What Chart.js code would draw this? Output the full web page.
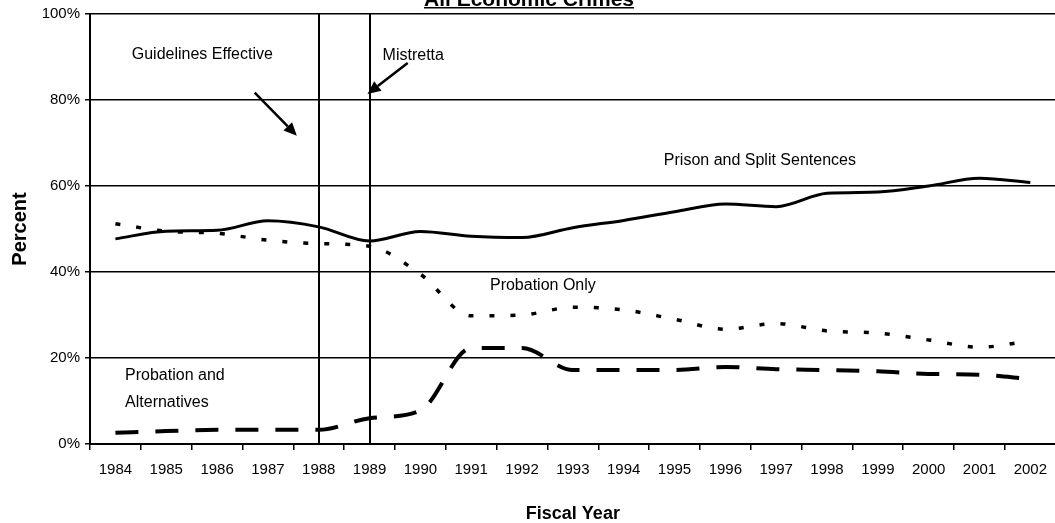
<!DOCTYPE html>
<html>
<head>
<meta charset="utf-8">
<script src="https://cdn.jsdelivr.net/npm/chart.js@4.4.0/dist/chart.umd.min.js"></script>
<style>
  html, body { margin: 0; padding: 0; background: #fff; overflow: hidden; width: 1055px; height: 523px; }
  #wrap { position: relative; width: 1058px; height: 523px; }
</style>
</head>
<body>
<div id="wrap"><canvas id="c"></canvas></div>
<script>
// ---- data ----
const years = ['1984','1985','1986','1987','1988','1989','1990','1991','1992','1993',
               '1994','1995','1996','1997','1998','1999','2000','2001','2002'];
const prisonSplit   = [47.7, 49.5, 49.7, 51.9, 50.5, 47.2, 49.4, 48.3, 48.0, 50.3,
                       52.0, 54.0, 55.8, 55.2, 58.3, 58.6, 60.0, 61.8, 60.8];
const probationOnly = [51.2, 49.5, 49.0, 47.4, 46.6, 46.0, 39.5, 29.8, 30.0, 31.8,
                       31.2, 29.0, 26.7, 28.0, 26.3, 25.8, 24.2, 22.5, 24.0];
const probationAlt  = [2.6, 3.0, 3.3, 3.3, 3.3, 6.0, 7.8, 22.3, 22.3, 17.2,
                       17.2, 17.2, 17.9, 17.4, 17.2, 16.9, 16.3, 16.1, 15.1];
const yTicks = [0, 20, 40, 60, 80, 100];
const eventYears = ['1988', '1989'];
const chartTitle = 'All Economic Crimes';
const xTitle = 'Fiscal Year';
const yTitle = 'Percent';

// annotation texts (positions given in data units: category index, percent)
const notes = [
  { text: 'Guidelines Effective', x: 1.71, y: 90.5, align: 'center' },
  { text: 'Mistretta', x: 5.86, y: 90.3, align: 'center' },
  { text: 'Prison and Split Sentences', x: 12.68, y: 65.9, align: 'center' },
  { text: 'Probation Only', x: 8.41, y: 36.9, align: 'center' },
  { text: 'Probation and', x: 0.19, y: 16.0, align: 'left' },
  { text: 'Alternatives', x: 0.19, y: 9.7, align: 'left' }
];
const arrows = [
  { from: [2.74, 81.7], to: [3.57, 71.7] },
  { from: [5.75, 88.6], to: [4.96, 81.4] }
];

const FONT = '"Liberation Sans", Arial, Helvetica, sans-serif';
Chart.defaults.font.family = FONT;
Chart.defaults.color = '#000';

const overlay = {
  id: 'overlay',
  beforeDatasetsDraw(chart) {
    const { ctx, chartArea: a, scales: { x } } = chart;
    ctx.save();
    ctx.strokeStyle = '#000';
    ctx.lineWidth = 2;
    eventYears.forEach(yr => {
      const px = Math.round(x.getPixelForValue(years.indexOf(yr)));
      ctx.beginPath();
      ctx.moveTo(px, a.top);
      ctx.lineTo(px, a.bottom);
      ctx.stroke();
    });
    ctx.restore();
  },
  afterDraw(chart) {
    const { ctx, scales: { x, y } } = chart;
    ctx.save();
    ctx.fillStyle = '#000';
    ctx.strokeStyle = '#000';
    // notes
    ctx.font = '16px ' + FONT;
    ctx.textBaseline = 'middle';
    notes.forEach(n => {
      ctx.textAlign = n.align;
      ctx.fillText(n.text, x.getPixelForValue(n.x), y.getPixelForValue(n.y));
    });
    // arrows
    arrows.forEach(ar => {
      const x1 = x.getPixelForValue(ar.from[0]), y1 = y.getPixelForValue(ar.from[1]);
      const x2 = x.getPixelForValue(ar.to[0]),   y2 = y.getPixelForValue(ar.to[1]);
      const ang = Math.atan2(y2 - y1, x2 - x1);
      const hl = 13, hw = 6;
      const bx = x2 - hl * Math.cos(ang), by = y2 - hl * Math.sin(ang);
      ctx.lineWidth = 2.5;
      ctx.beginPath();
      ctx.moveTo(x1, y1);
      ctx.lineTo(bx, by);
      ctx.stroke();
      ctx.beginPath();
      ctx.moveTo(x2, y2);
      ctx.lineTo(bx + hw * Math.sin(ang), by - hw * Math.cos(ang));
      ctx.lineTo(bx - hw * Math.sin(ang), by + hw * Math.cos(ang));
      ctx.closePath();
      ctx.fill();
    });
    // title (cut off at top, underlined)
    ctx.font = 'bold 21px ' + FONT;
    ctx.textAlign = 'center';
    ctx.textBaseline = 'alphabetic';
    const cx = chart.width / 2;
    ctx.fillText(chartTitle, cx, 6);
    const w = ctx.measureText(chartTitle).width;
    ctx.fillRect(cx - w / 2, 7, w, 1.5);
    ctx.restore();
  }
};

new Chart(document.getElementById('c'), {
  type: 'line',
  data: {
    labels: years,
    datasets: [
      { label: 'Prison and Split Sentences', data: prisonSplit, borderColor: '#000',
        borderWidth: 3, pointRadius: 0, cubicInterpolationMode: 'monotone', fill: false },
      { label: 'Probation Only', data: probationOnly, borderColor: '#000',
        borderWidth: 3.5, borderDash: [5, 16], pointRadius: 0, cubicInterpolationMode: 'monotone', fill: false },
      { label: 'Probation and Alternatives', data: probationAlt, borderColor: '#000',
        borderWidth: 4, borderDash: [23, 17], pointRadius: 0, cubicInterpolationMode: 'monotone', fill: false }
    ]
  },
  options: {
    responsive: true,
    maintainAspectRatio: false,
    animation: false,
    devicePixelRatio: 1,
    layout: { padding: { top: 13, left: 0, right: 0, bottom: 0 } },
    plugins: { legend: { display: false }, tooltip: { enabled: false }, title: { display: false } },
    scales: {
      x: {
        type: 'category',
        offset: true,
        grid: { offset: true, drawOnChartArea: false, drawTicks: true, tickLength: 6, color: '#000', lineWidth: 1.5 },
        border: { display: true, color: '#000', width: 2 },
        ticks: { font: { size: 15 }, padding: 11, maxRotation: 0, autoSkip: false, color: '#000' },
        title: { display: true, text: xTitle, font: { size: 18, weight: 'bold', lineHeight: 1 }, padding: { top: 0, bottom: 0 }, color: '#000' },
        afterFit(scale) { scale.height = 79; }
      },
      y: {
        min: 0, max: 100,
        afterBuildTicks(scale) { scale.ticks = yTicks.map(v => ({ value: v })); },
        grid: { color: '#000', lineWidth: 1.5, tickLength: 5, drawTicks: true },
        border: { display: true, color: '#000', width: 2 },
        ticks: { font: { size: 15 }, padding: 5, color: '#000', callback: v => v + '%' },
        title: { display: true, text: yTitle, font: { size: 20, weight: 'bold' }, padding: { top: 8, bottom: 0 }, color: '#000' },
        afterFit(scale) { scale.width = 90; }
      }
    }
  },
  plugins: [overlay]
});
</script>
</body>
</html>
